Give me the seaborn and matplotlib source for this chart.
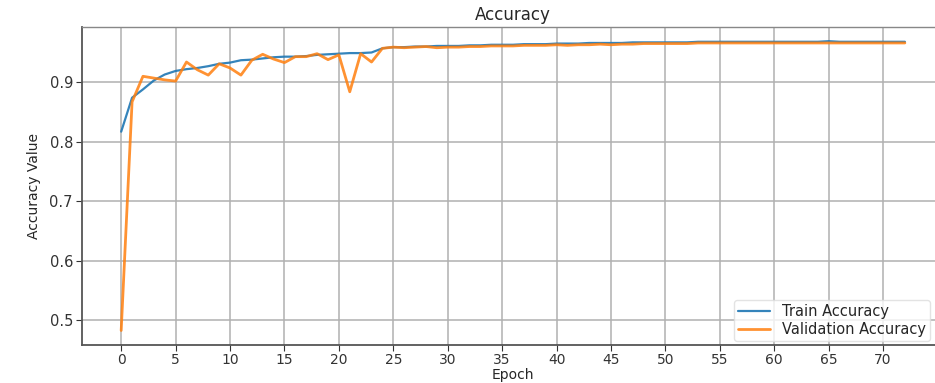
import matplotlib
matplotlib.use("Agg")
import matplotlib.pyplot as plt
import seaborn as sns
import numpy as np
import pandas as pd

epochs = list(range(73))
train_acc = [
    0.817, 0.874, 0.888, 0.903, 0.913, 0.919, 0.922, 0.924, 0.927, 0.931,
    0.933, 0.937, 0.938, 0.940, 0.942, 0.943, 0.943, 0.944, 0.946, 0.947,
    0.948, 0.949, 0.949, 0.950, 0.957, 0.959, 0.959, 0.960, 0.960, 0.961,
    0.961, 0.961, 0.962, 0.962, 0.963, 0.963, 0.963, 0.964, 0.964, 0.964,
    0.965, 0.965, 0.965, 0.966, 0.966, 0.966, 0.966, 0.967, 0.967, 0.967,
    0.967, 0.967, 0.967, 0.968, 0.968, 0.968, 0.968, 0.968, 0.968, 0.968,
    0.968, 0.968, 0.968, 0.968, 0.968, 0.969, 0.968, 0.968, 0.968, 0.968,
    0.968, 0.968, 0.968,
]
val_acc = [
    0.483, 0.867, 0.910, 0.907, 0.904, 0.902, 0.934, 0.921, 0.912, 0.931,
    0.924, 0.912, 0.937, 0.947, 0.939, 0.933, 0.943, 0.943, 0.948, 0.938,
    0.946, 0.884, 0.948, 0.934, 0.957, 0.959, 0.958, 0.959, 0.960, 0.958,
    0.959, 0.959, 0.960, 0.960, 0.961, 0.961, 0.961, 0.962, 0.962, 0.962,
    0.963, 0.962, 0.963, 0.963, 0.964, 0.963, 0.964, 0.964, 0.965, 0.965,
    0.965, 0.965, 0.965, 0.966, 0.966, 0.966, 0.966, 0.966, 0.966, 0.966,
    0.966, 0.966, 0.966, 0.966, 0.966, 0.966, 0.966, 0.966, 0.966, 0.966,
    0.966, 0.966, 0.966,
]
series_names = ["Train Accuracy", "Validation Accuracy"]
x_ticks = list(range(0, 71, 5))
y_ticks = [0.5, 0.6, 0.7, 0.8, 0.9]

sns.set_style("ticks")
plt.rcParams['font.family'] = ['DejaVu Sans']

fig = plt.figure(figsize=(9.35, 3.83), dpi=100)
ax = fig.add_axes([0.0877, 0.099, 0.922, 0.830])

sns.lineplot(x=epochs, y=train_acc, ax=ax, color="#1f77b4", linewidth=1.6,
             label=series_names[0], alpha=0.9)
sns.lineplot(x=epochs, y=val_acc, ax=ax, color="#ff7f0e", linewidth=2.0,
             label=series_names[1], alpha=0.85)

ax.set_xticks(x_ticks)
ax.set_yticks(y_ticks)
ax.set_xlim(-3.6, 75.6)
ax.set_ylim(0.4585, 0.9925)
ax.grid(True, color="#b0b0b0", linewidth=1.1)
ax.set_axisbelow(True)
for s in ["left", "bottom"]:
    ax.spines[s].set_color("#555555")
    ax.spines[s].set_linewidth(1.3)
for s in ["top", "right"]:
    ax.spines[s].set_color("#888888")
    ax.spines[s].set_linewidth(1.0)
ax.tick_params(axis="both", labelsize=10.5, colors="#333333", length=4, pad=2.5)
ax.tick_params(axis="x", labelsize=10, pad=2)

ax.set_title("Accuracy", fontsize=12, pad=5)
ax.set_xlabel("Epoch", fontsize=10, labelpad=0.5)
ax.set_ylabel("Accuracy Value", fontsize=10, labelpad=6)
leg = ax.legend(loc="lower right", fontsize=10.5, frameon=True,
                bbox_to_anchor=(0.984, 0.012), borderaxespad=0.0,
                handlelength=2.2, borderpad=0.3, labelspacing=0.2)
leg.get_frame().set_edgecolor("#dddddd")

fig.savefig("out.png", dpi=100)
